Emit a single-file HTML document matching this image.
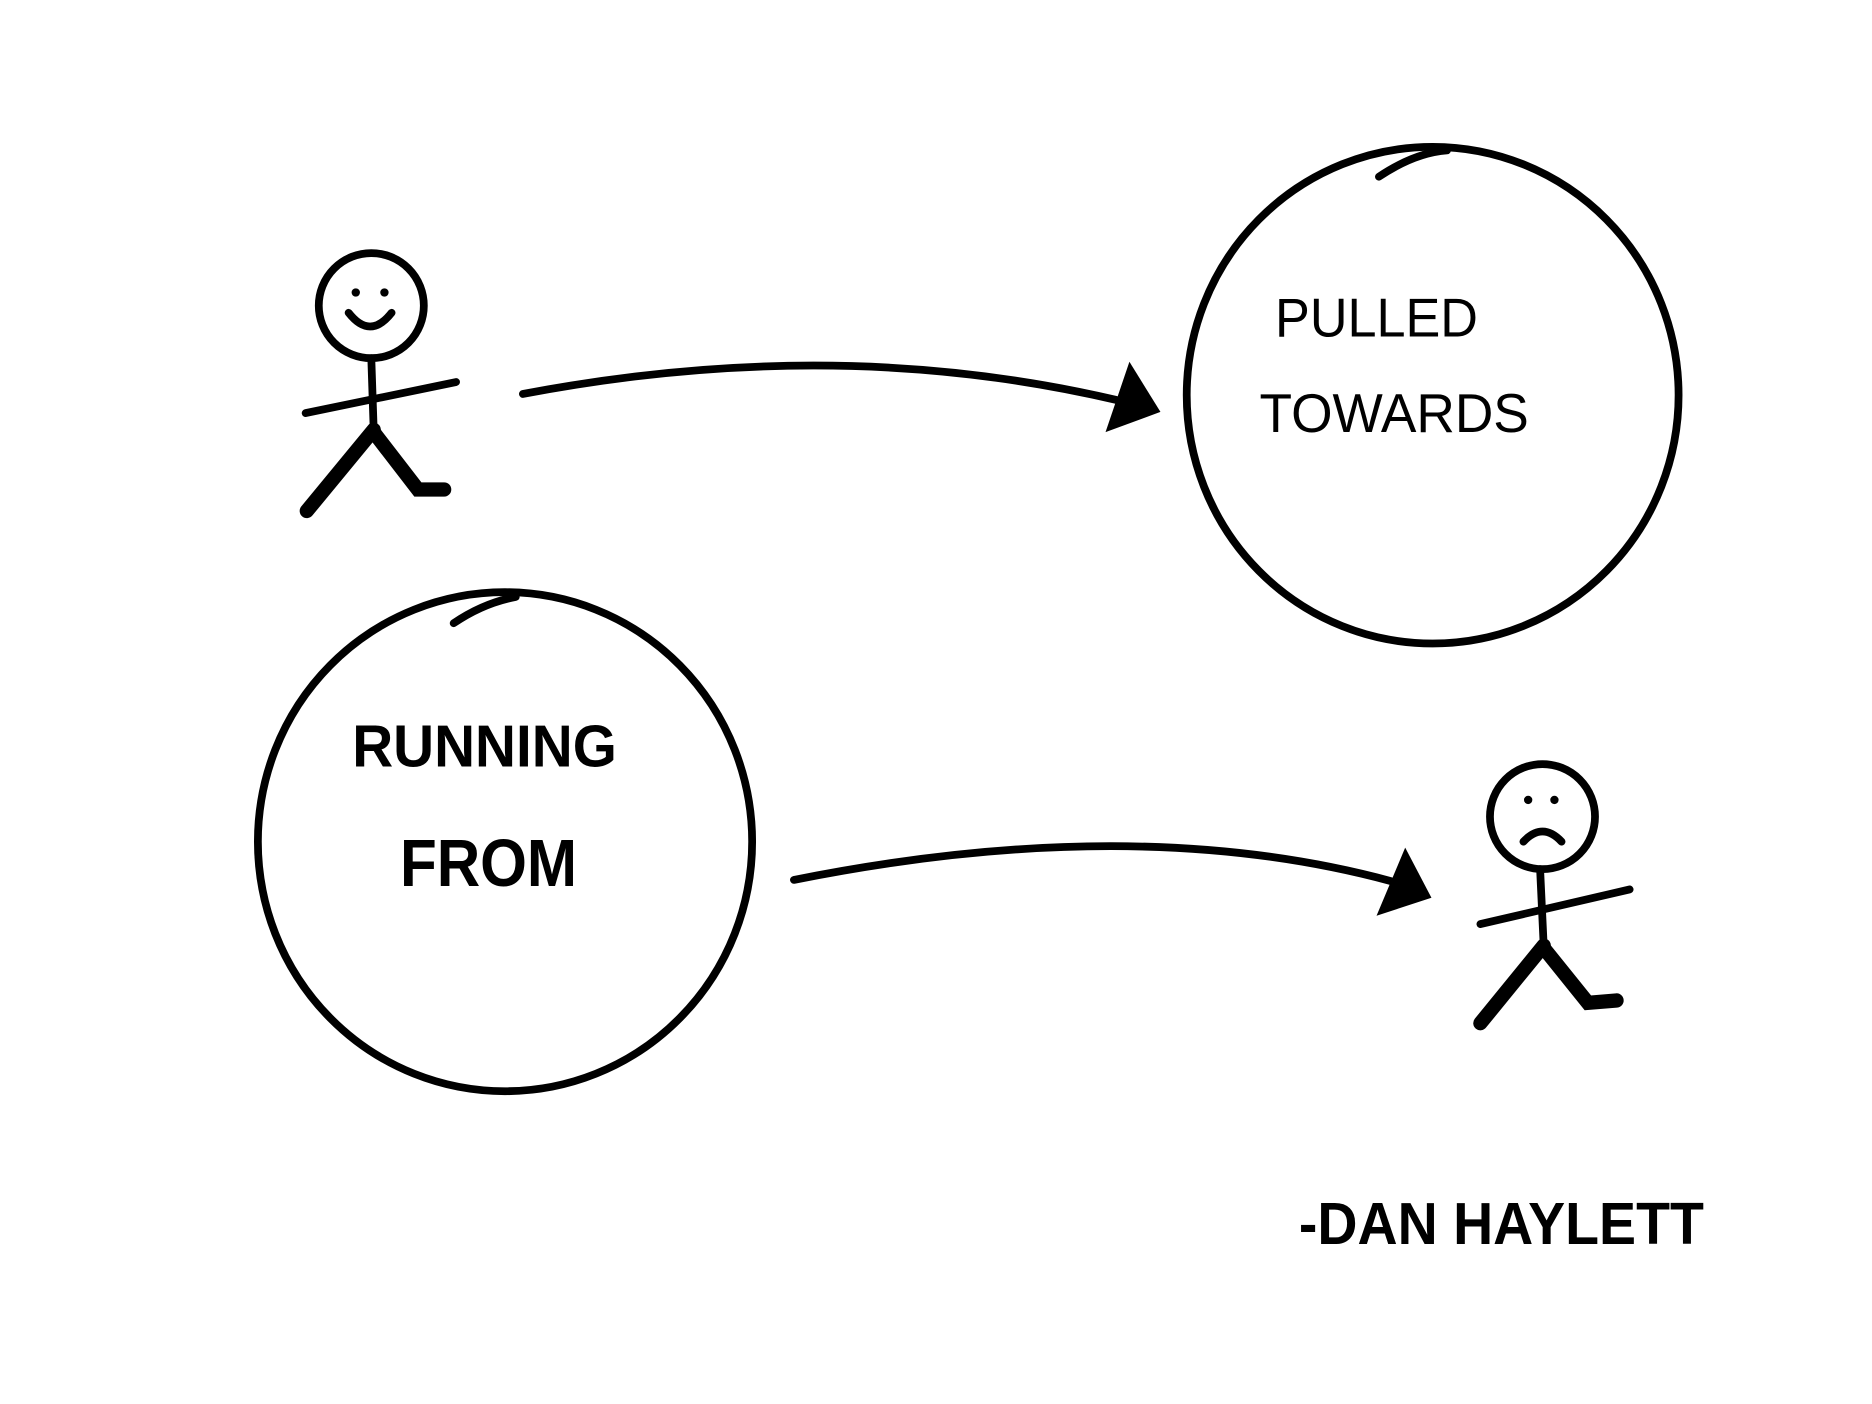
<!DOCTYPE html>
<html><head><style>
html,body{margin:0;padding:0;background:#fff;}
svg{display:block;}
text{font-family:"Liberation Sans",sans-serif;fill:#000;}
</style></head><body>
<svg width="1872" height="1404" viewBox="0 0 1568 1176" preserveAspectRatio="none" xmlns="http://www.w3.org/2000/svg">
<rect width="1568" height="1176" fill="#fff"/>
<g fill="none" stroke="#000" stroke-width="6.5" stroke-linecap="round" stroke-linejoin="round">
<ellipse cx="1200" cy="331" rx="206" ry="208"/>
<path d="M1155,148 Q1185,128 1212,126"/>
<ellipse cx="423" cy="705" rx="207" ry="209"/>
<path d="M380,522 Q405,505 432,500"/>
<circle cx="311" cy="256" r="44"/>
<path d="M292,262 Q310,285 328,262"/>
<path d="M311,300 L313,360"/>
<path d="M256,346 L382,320"/>
<path d="M438,330 Q700,280 935,335"/>
<circle cx="1292" cy="684" r="44"/>
<path d="M1276,705 Q1292,688 1308,705"/>
<path d="M1290,728 L1293,792"/>
<path d="M1240,774 L1365,745"/>
<path d="M665,737 Q950,680 1165,738"/>
</g>
<g fill="none" stroke="#000" stroke-width="12" stroke-linecap="round">
<path d="M313,360 L257,428"/><path d="M313,362 L350,410 L372,410"/>
<path d="M1293,792 L1240,857"/><path d="M1293,794 L1330,840 L1354,838"/>
</g>
<g fill="#000">
<circle cx="298" cy="245" r="3.5"/><circle cx="322" cy="245" r="3.5"/>
<circle cx="1280" cy="670" r="3.5"/><circle cx="1302" cy="670" r="3.5"/>
<polygon points="926,362 972,345 946,303"/>
<polygon points="1153,767 1199,752 1177,710"/>
</g>
<text x="1068" y="282" font-size="46" transform="translate(1068,282) scale(0.95,1) translate(-1068,-282)">PULLED</text>
<text x="1055" y="362" font-size="46" transform="translate(1055,362) scale(0.97,1) translate(-1055,-362)">TOWARDS</text>
<text x="295" y="642" font-size="50" font-weight="bold" transform="translate(295,642) scale(0.95,1) translate(-295,-642)">RUNNING</text>
<text x="335" y="742" font-size="56" font-weight="bold" transform="translate(335,742) scale(0.9,1) translate(-335,-742)">FROM</text>
<text x="1088" y="1042" font-size="50" font-weight="bold" transform="translate(1088,1042) scale(0.93,1) translate(-1088,-1042)">-DAN HAYLETT</text>
</svg>
</body></html>
